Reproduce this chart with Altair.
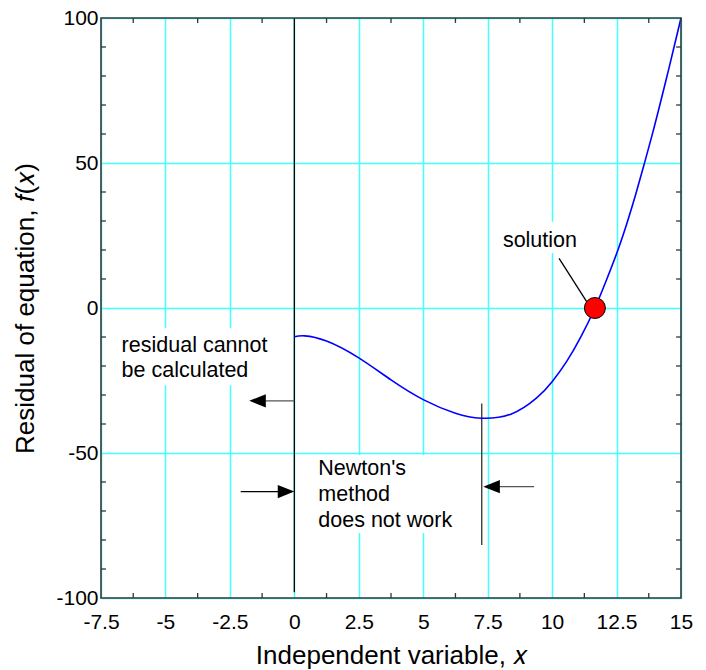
import altair as alt
import pandas as pd

# ---- data ----
curve_x = [0.0, 0.4, 1.25, 2.5, 3.75, 5.0, 6.25, 7.25, 8.4, 9.4, 10.0, 10.56, 11.12,
           11.66, 12.12, 12.57, 12.93, 13.25, 13.56, 13.86, 14.13, 14.42, 14.7, 15.0]
curve_y = [-9.9, -9.6, -11.4, -17.2, -24.8, -31.6, -36.3, -38.0, -36.6, -31.0, -25.4, -18.5, -9.9,
           0.0, 9.9, 20.4, 30.0, 39.4, 49.2, 59.0, 68.3, 78.6, 88.9, 100.0]

solution_x = [11.66]
solution_y = [0.0]

x_major = [-7.5, -5, -2.5, 0, 2.5, 5, 7.5, 10, 12.5, 15]
y_major = [-100, -50, 0, 50, 100]
x_minor = [-6.25, -3.75, -1.25, 1.25, 3.75, 6.25, 8.75, 11.25, 13.75]
y_minor = [-90, -80, -70, -60, -40, -30, -20, -10, 10, 20, 30, 40, 60, 70, 80, 90]

# annotation texts (lines) with anchor in data units
note_text = ["residual cannot", "be calculated", "Newton's", "method", "does not work", "solution"]
note_x = [-6.70, -6.70, 0.93, 0.93, 0.93, 8.09]
note_y = [-15.3, -23.9, -57.6, -66.5, -75.4, 21.0]

# white boxes behind the annotation texts
box_x1 = [-6.88, 0.72, 7.9]
box_x2 = [-0.75, 6.27, 11.2]
box_y1 = [-6.9, -50.7, 19.0]
box_y2 = [-26.6, -77.6, 29.7]

# line segments (x, x2, y, y2, colour)
seg_x1 = [0.0, 7.27, -1.4, -2.08, 7.6, 10.27]
seg_x2 = [0.0, 7.27, 0.0, -0.3, 9.3, 11.34]
seg_y1 = [100.0, -32.9, -32.0, -63.3, -61.6, 17.1]
seg_y2 = [-98.0, -81.7, -32.0, -63.3, -61.6, 2.2]
seg_col = ["#000000", "#333333", "#555555", "#000000", "#555555", "#000000"]

# arrow heads (tip position, direction)
head_x = [-1.75, 0.0, 7.33]
head_y = [-32.0, -63.3, -61.6]
head_dir = ["left", "right", "left"]

FONT = "Liberation Sans"
GRID = "#44FFFF"

curve_df = pd.DataFrame({"x": curve_x, "y": curve_y})
sol_df = pd.DataFrame({"x": solution_x, "y": solution_y})
note_df = pd.DataFrame({"t": note_text, "x": note_x, "y": note_y})
box_df = pd.DataFrame({"x": box_x1, "x2": box_x2, "y": box_y1, "y2": box_y2})
seg_df = pd.DataFrame({"x": seg_x1, "x2": seg_x2, "y": seg_y1, "y2": seg_y2, "c": seg_col})
head_df = pd.DataFrame({"x": head_x, "y": head_y, "d": head_dir})

xs = alt.Scale(domain=[-7.5, 15], nice=False, zero=False)
ys = alt.Scale(domain=[-100, 100], nice=False, zero=False)

x_axis = alt.Axis(values=x_major, labelExpr="'' + datum.value", grid=True, gridColor=GRID,
                  gridWidth=1.5, domain=False, ticks=False, labelFont=FONT, labelFontSize=21,
                  labelColor="black", labelPadding=13, labelFlush=False,
                  title="Independent variable, 𝑥", titleFont=FONT, titleFontSize=26,
                  titleFontWeight="normal", titleColor="black", titlePadding=10)
y_axis = alt.Axis(values=y_major, labelExpr="'' + datum.value", grid=True, gridColor=GRID,
                  gridWidth=1.5, domain=False, ticks=False, labelFont=FONT, labelFontSize=21,
                  labelColor="black", labelPadding=3, labelFlush=False,
                  title="Residual of equation, 𝑓(𝑥)", titleFont=FONT, titleFontSize=26,
                  titleFontWeight="normal", titleColor="black", titlePadding=17)

base_x = alt.X("x:Q", scale=xs, axis=x_axis)
base_y = alt.Y("y:Q", scale=ys, axis=y_axis)

# invisible layer carrying axes
axes_layer = alt.Chart(curve_df).mark_point(opacity=0).encode(x=base_x, y=base_y)

boxes = alt.Chart(box_df).mark_rect(fill="white").encode(
    x=alt.X("x:Q", scale=xs), x2="x2:Q", y=alt.Y("y:Q", scale=ys), y2="y2:Q")

segs = alt.Chart(seg_df).mark_rule(strokeWidth=1.3).encode(
    x=alt.X("x:Q", scale=xs), x2="x2:Q", y=alt.Y("y:Q", scale=ys), y2="y2:Q",
    color=alt.Color("c:N", scale=None))

heads = alt.Chart(head_df).mark_point(filled=True, color="black", opacity=1, size=1100).encode(
    x=alt.X("x:Q", scale=xs), y=alt.Y("y:Q", scale=ys),
    shape=alt.Shape("d:N", scale=alt.Scale(domain=["left", "right"],
                                           range=["M0,0 L1,-0.4 L1,0.4 Z",
                                                  "M0,0 L-1,-0.4 L-1,0.4 Z"]),
                    legend=None))

line = alt.Chart(curve_df).mark_line(color="#0000FF", strokeWidth=1.6, interpolate="natural").encode(
    x=alt.X("x:Q", scale=xs), y=alt.Y("y:Q", scale=ys))

sol = alt.Chart(sol_df).mark_point(filled=True, fill="#FF0000", stroke="black", strokeWidth=1,
                                   size=441, opacity=1, shape="circle").encode(
    x=alt.X("x:Q", scale=xs), y=alt.Y("y:Q", scale=ys))

notes = alt.Chart(note_df).mark_text(align="left", baseline="alphabetic", font=FONT,
                                     fontSize=21.5, color="black").encode(
    x=alt.X("x:Q", scale=xs), y=alt.Y("y:Q", scale=ys), text="t:N")

# inward minor ticks on all four sides
tick_rows = []
for v in x_minor:
    tick_rows.append({"x": v, "x2": v, "y": -100, "y2": -98.3})
    tick_rows.append({"x": v, "x2": v, "y": 100, "y2": 98.3})
for v in y_minor:
    tick_rows.append({"x": -7.5, "x2": -7.31, "y": v, "y2": v})
    tick_rows.append({"x": 15, "x2": 14.81, "y": v, "y2": v})
ticks = alt.Chart(pd.DataFrame(tick_rows)).mark_rule(color="#333333", strokeWidth=1.3).encode(
    x=alt.X("x:Q", scale=xs), x2="x2:Q", y=alt.Y("y:Q", scale=ys), y2="y2:Q")

frame = alt.Chart(pd.DataFrame({"x": [-7.5], "x2": [15], "y": [-100], "y2": [100]})).mark_rect(
    fill="white", fillOpacity=0, stroke="#3a3a3a", strokeWidth=1.6).encode(
    x=alt.X("x:Q", scale=xs), x2="x2:Q", y=alt.Y("y:Q", scale=ys), y2="y2:Q")

chart = alt.layer(axes_layer, boxes, segs, heads, line, sol, notes, ticks, frame).properties(
    width=580, height=580,
    autosize=alt.AutoSizeParams(type="none"),
    padding={"left": 101, "top": 18, "right": 25, "bottom": 72},
    background="white",
).configure_view(stroke=None)

chart.save("out.html", embed_options={"renderer": "svg", "actions": False})
